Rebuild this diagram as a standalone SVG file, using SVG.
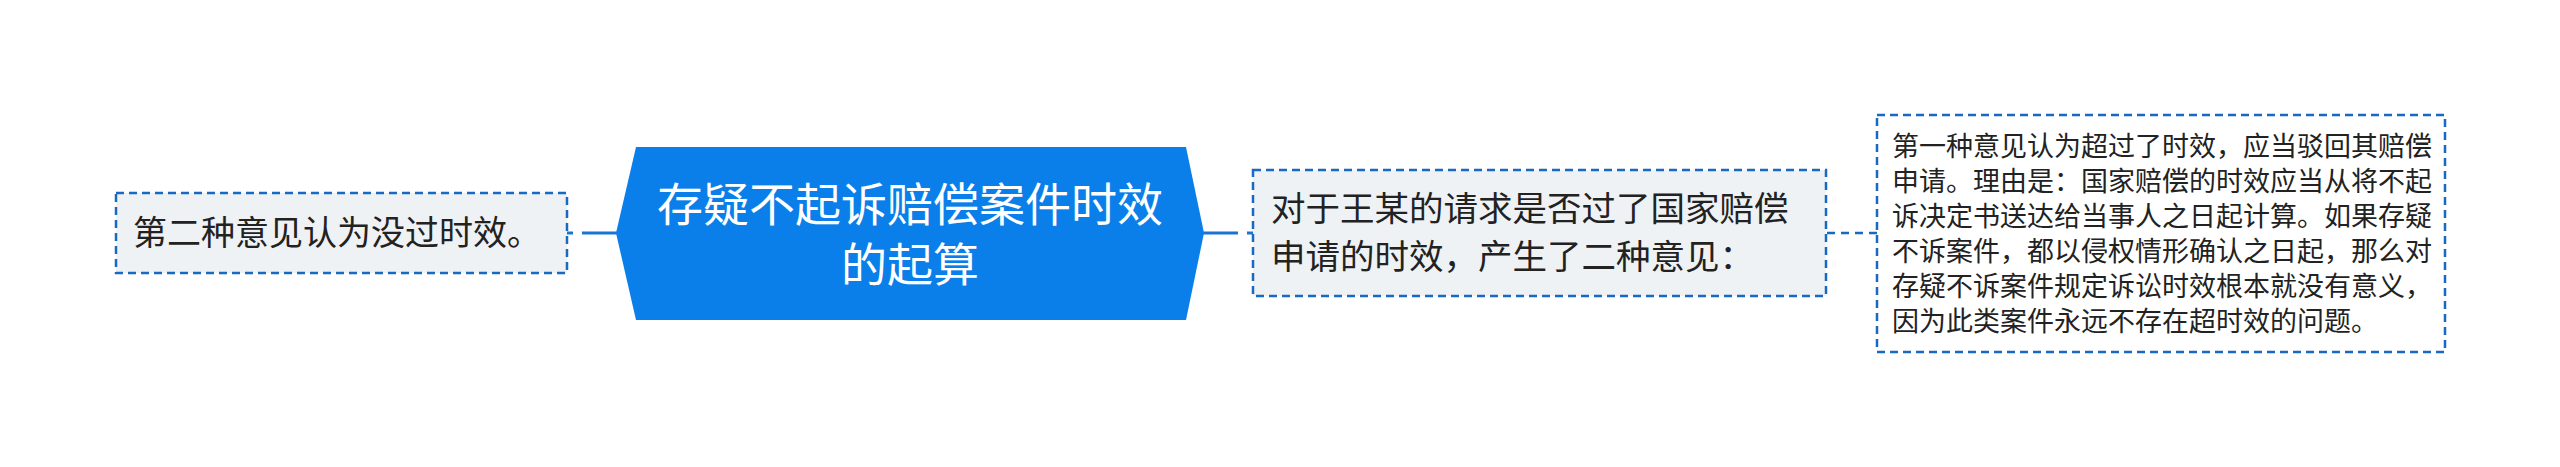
<svg xmlns="http://www.w3.org/2000/svg" width="2560" height="467" viewBox="0 0 2560 467">
<style>
.txt{font-family:"Noto Sans CJK SC","Microsoft YaHei",sans-serif;fill:#222222}
.box{stroke:#1769c2;stroke-width:2.5;stroke-dasharray:8 5}
.conn{fill:none;stroke:#1a74d2;stroke-width:3}
.dconn{fill:none;stroke:#1769c2;stroke-width:2.5;stroke-dasharray:8 6}
</style>
<rect width="2560" height="467" fill="#ffffff"/>
<g id="connectors">
<path class="conn" d="M567 233 H573 M582 233 H617"/>
<path class="conn" d="M1203 233 H1238 M1247 233 H1253"/>
<path class="dconn" d="M1827 233 H1877"/>
</g>
<g id="node-left">
<rect class="box" x="116" y="193" width="451" height="80" fill="#eff2f5"/>
<text class="txt" x="133" y="245" font-size="34">第二种意见认为没过时效。</text>
</g>
<g id="node-center">
<polygon points="616,233 636,147 1186,147 1204,233 1186,320 636,320" fill="#0a7fea"/>
<text x="910" text-anchor="middle" font-size="46" fill="#ffffff" font-family="&quot;Noto Sans CJK SC&quot;,sans-serif"><tspan x="910" y="221">存疑不起诉赔偿案件时效</tspan><tspan x="910" y="281">的起算</tspan></text>
</g>
<g id="node-right1">
<rect class="box" x="1253" y="170" width="573" height="126" fill="#eff2f5"/>
<text class="txt" font-size="34.5"><tspan x="1271" y="221">对于王某的请求是否过了国家赔偿</tspan><tspan x="1271" y="269">申请的时效，产生了二种意见：</tspan></text>
</g>
<g id="node-right2">
<rect class="box" x="1877" y="115" width="568" height="237" fill="#ffffff"/>
<text class="txt" font-size="27"><tspan x="1892" y="156">第一种意见认为超过了时效，应当驳回其赔偿</tspan><tspan x="1892" y="191">申请。理由是：国家赔偿的时效应当从将不起</tspan><tspan x="1892" y="226">诉决定书送达给当事人之日起计算。如果存疑</tspan><tspan x="1892" y="261">不诉案件，都以侵权情形确认之日起，那么对</tspan><tspan x="1892" y="296">存疑不诉案件规定诉讼时效根本就没有意义，</tspan><tspan x="1892" y="331">因为此类案件永远不存在超时效的问题。</tspan></text>
</g>
</svg>
